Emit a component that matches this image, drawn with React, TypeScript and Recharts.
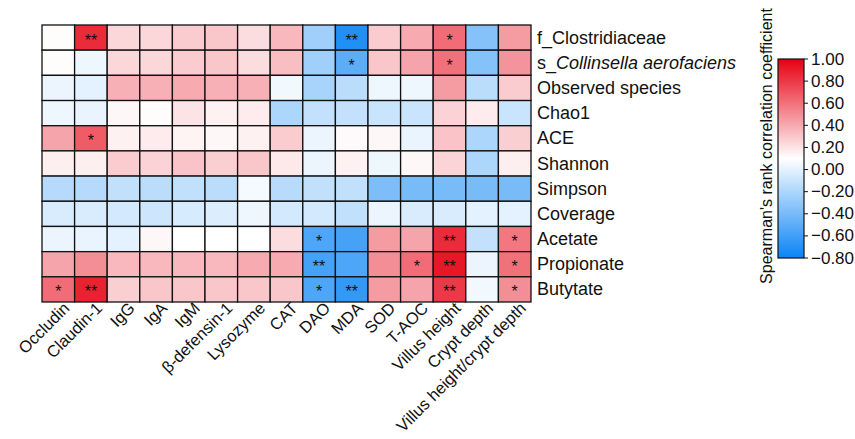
import React from "react";
import { ScatterChart, Scatter, XAxis, YAxis } from "recharts";

const columns = [
  "Occludin",
  "Claudin-1",
  "IgG",
  "IgA",
  "IgM",
  "β-defensin-1",
  "Lysozyme",
  "CAT",
  "DAO",
  "MDA",
  "SOD",
  "T-AOC",
  "Villus height",
  "Crypt depth",
  "Villus height/crypt depth",
];

const rows = [
  "f_Clostridiaceae",
  "s_Collinsella aerofaciens",
  "Observed species",
  "Chao1",
  "ACE",
  "Shannon",
  "Simpson",
  "Coverage",
  "Acetate",
  "Propionate",
  "Butytate",
];

// Spearman coefficients, one line per row (order = columns)
const corr = [
  [0.11, 0.85, 0.24, 0.24, 0.28, 0.3, 0.22, 0.35, -0.25, -0.72, 0.28, 0.4, 0.62, -0.35, 0.45],
  [0.11, 0.04, 0.24, 0.24, 0.28, 0.3, 0.22, 0.33, -0.25, -0.5, 0.3, 0.42, 0.6, -0.35, 0.48],
  [0.03, 0.0, 0.38, 0.38, 0.4, 0.38, 0.38, 0.05, -0.22, -0.15, 0.04, 0.04, 0.45, -0.15, 0.28],
  [0.04, 0.02, 0.13, 0.11, 0.2, 0.15, 0.17, -0.2, -0.12, -0.12, -0.1, -0.1, 0.26, 0.17, -0.1],
  [0.42, 0.68, 0.15, 0.17, 0.14, 0.13, 0.15, 0.28, 0.03, 0.12, 0.13, 0.02, 0.31, -0.2, 0.27],
  [0.16, 0.16, 0.28, 0.26, 0.31, 0.27, 0.3, 0.18, 0.03, 0.15, 0.04, 0.13, 0.25, -0.2, 0.16],
  [-0.17, -0.17, -0.13, -0.15, -0.13, -0.15, 0.06, -0.16, -0.13, -0.13, -0.38, -0.4, -0.4, -0.4, -0.4],
  [-0.04, -0.04, -0.06, -0.08, -0.05, -0.03, 0.04, -0.06, -0.06, -0.13, 0.03, -0.04, -0.04, 0.0, 0.0],
  [0.03, 0.02, 0.0, 0.13, 0.1, 0.1, 0.1, 0.22, -0.55, -0.58, 0.45, 0.42, 0.85, -0.12, 0.58],
  [0.42, 0.5, 0.35, 0.35, 0.35, 0.35, 0.4, 0.4, -0.58, -0.55, 0.5, 0.62, 0.92, 0.03, 0.6],
  [0.62, 0.88, 0.27, 0.3, 0.3, 0.3, 0.3, 0.3, -0.55, -0.65, 0.45, 0.42, 0.8, 0.05, 0.5],
];

const signif = [
  ["", "**", "", "", "", "", "", "", "", "**", "", "", "*", "", ""],
  ["", "", "", "", "", "", "", "", "", "*", "", "", "*", "", ""],
  ["", "", "", "", "", "", "", "", "", "", "", "", "", "", ""],
  ["", "", "", "", "", "", "", "", "", "", "", "", "", "", ""],
  ["", "*", "", "", "", "", "", "", "", "", "", "", "", "", ""],
  ["", "", "", "", "", "", "", "", "", "", "", "", "", "", ""],
  ["", "", "", "", "", "", "", "", "", "", "", "", "", "", ""],
  ["", "", "", "", "", "", "", "", "", "", "", "", "", "", ""],
  ["", "", "", "", "", "", "", "", "*", "", "", "", "**", "", "*"],
  ["", "", "", "", "", "", "", "", "**", "", "", "*", "**", "", "*"],
  ["*", "**", "", "", "", "", "", "", "*", "**", "", "", "**", "", "*"],
];

const legendTicks = [1.0, 0.8, 0.6, 0.4, 0.2, 0.0, -0.2, -0.4, -0.6, -0.8];
const vMin = -0.8;
const vMax = 1.0;

const W = 855;
const H = 439;
const margin = { top: 25, right: 104, bottom: 7, left: 42 };
const yAxisW = 220;
const xAxisH = 130;
const plotW = W - margin.left - margin.right - yAxisW;
const plotH = H - margin.top - margin.bottom - xAxisH;
const cellW = plotW / columns.length;
const cellH = plotH / rows.length;

const RED = [230, 0, 18];
const BLUE = [10, 132, 245];

function colorOf(v: number) {
  const mid = (vMin + vMax) / 2;
  let t = v >= mid ? (v - mid) / (vMax - mid) : (v - mid) / (mid - vMin);
  t = Math.max(-1, Math.min(1, t));
  const target = t >= 0 ? RED : BLUE;
  const a = Math.abs(t);
  const c = target.map((ch) => Math.round(255 * (1 - a) + ch * a));
  return `rgb(${c[0]},${c[1]},${c[2]})`;
}

const cells = rows.flatMap((r, ri) =>
  columns.map((c, ci) => ({
    x: ci + 0.5,
    y: ri + 0.5,
    v: corr[ri][ci],
    sig: signif[ri][ci],
  }))
);

const font = "Arial, 'Liberation Sans', sans-serif";

const CellShape = (props: any) => {
  const { cx, cy, payload } = props;
  return (
    <g>
      <rect
        x={cx - cellW / 2}
        y={cy - cellH / 2}
        width={cellW}
        height={cellH}
        fill={colorOf(payload.v)}
        stroke="#111"
        strokeWidth={1.3}
      />
      {payload.sig ? (
        <text x={cx} y={cy + 8} textAnchor="middle" fontSize={16} fontFamily={font} fill="#111">
          {payload.sig}
        </text>
      ) : null}
    </g>
  );
};

const XTick = (props: any) => {
  const { x, y, payload } = props;
  const label = columns[Math.floor(payload.value)];
  return (
    <text
      transform={`translate(${x + 8},${y - 5}) rotate(-45)`}
      textAnchor="end"
      dominantBaseline="central"
      fontSize={16.5}
      fontFamily={font}
      fill="#111"
    >
      {label}
    </text>
  );
};

const YTick = (props: any) => {
  const { x, y, payload } = props;
  const label = rows[Math.floor(payload.value)];
  const italic = label.startsWith("s_");
  return (
    <text x={x - 2} y={y} dominantBaseline="central" fontSize={18} fontFamily={font} fill="#111">
      {italic ? (
        <>
          s_<tspan fontStyle="italic">{label.slice(2)}</tspan>
        </>
      ) : (
        label
      )}
    </text>
  );
};

const ColorBar = () => {
  const bx = 778;
  const bw = 26;
  const top = 59;
  const bottom = 258;
  const yOf = (v: number) => top + ((vMax - v) / (vMax - vMin)) * (bottom - top);
  const stops = [0, 0.25, 0.5, 0.75, 1];
  return (
    <svg width={W} height={H} style={{ position: "absolute", left: 0, top: 0, pointerEvents: "none" }}>
      <defs>
        <linearGradient id="cbar" x1="0" y1="0" x2="0" y2="1">
          {stops.map((s) => (
            <stop key={s} offset={s} stopColor={colorOf(vMax - s * (vMax - vMin))} />
          ))}
        </linearGradient>
      </defs>
      <rect x={bx} y={top} width={bw} height={bottom - top} fill="url(#cbar)" stroke="#111" strokeWidth={1.2} />
      {legendTicks.map((t) => (
        <g key={t}>
          <line x1={bx + bw} x2={bx + bw + 4} y1={yOf(t)} y2={yOf(t)} stroke="#111" strokeWidth={1} />
          <text x={bx + bw + 7} y={yOf(t)} dominantBaseline="central" fontSize={17} fontFamily={font} fill="#111">
            {t < 0 ? `\u2212${Math.abs(t).toFixed(2)}` : t.toFixed(2)}
          </text>
        </g>
      ))}
      <text
        transform={`translate(766,146) rotate(-90)`}
        textAnchor="middle"
        dominantBaseline="central"
        fontSize={16}
        fontFamily={font}
        fill="#111"
      >
        Spearman's rank correlation coefficient
      </text>
    </svg>
  );
};

export default function App() {
  return (
    <div style={{ position: "absolute", left: 0, top: 0, width: W, height: H, background: "#fff" }}>
      <ScatterChart width={W} height={H} margin={margin}>
        <XAxis
          type="number"
          dataKey="x"
          domain={[0, columns.length]}
          ticks={columns.map((_, i) => i + 0.5)}
          tick={<XTick />}
          axisLine={false}
          tickLine={false}
          height={xAxisH}
          interval={0}
        />
        <YAxis
          type="number"
          dataKey="y"
          orientation="right"
          reversed
          domain={[0, rows.length]}
          ticks={rows.map((_, i) => i + 0.5)}
          tick={<YTick />}
          axisLine={false}
          tickLine={false}
          width={yAxisW}
          interval={0}
        />
        <Scatter data={cells} shape={<CellShape />} isAnimationActive={false} />
      </ScatterChart>
      <ColorBar />
    </div>
  );
}
